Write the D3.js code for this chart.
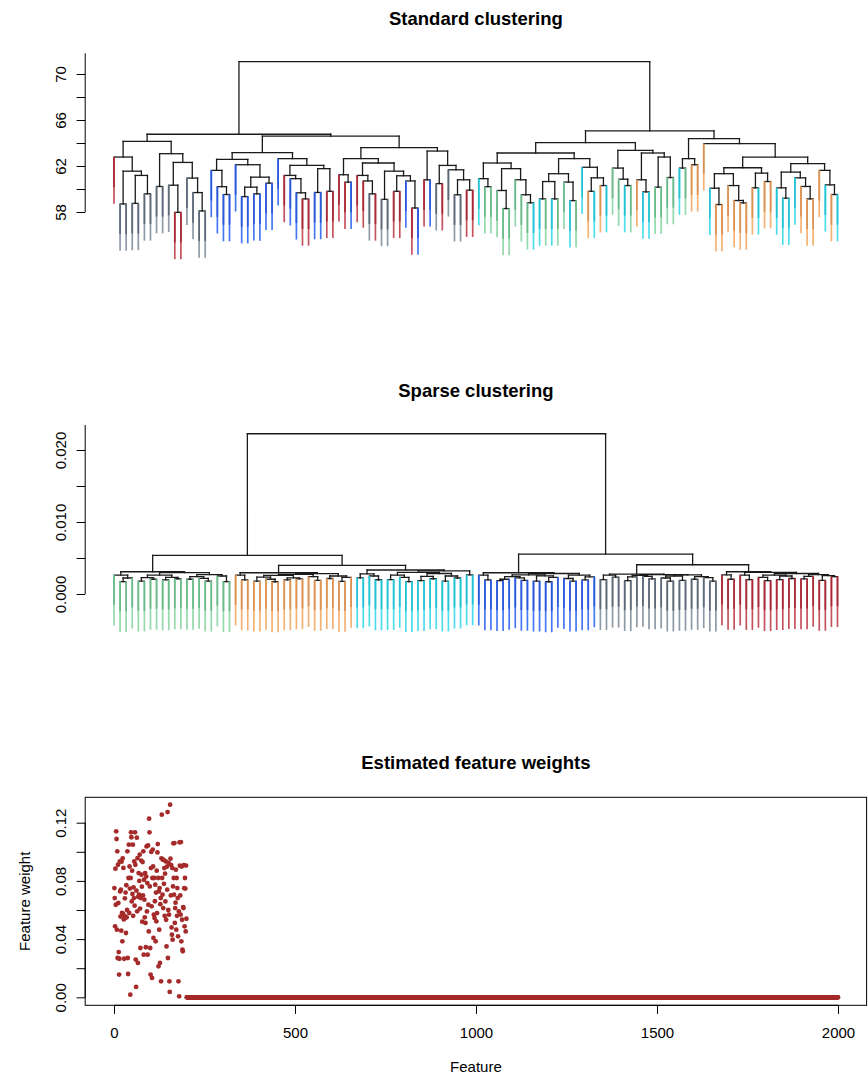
<!DOCTYPE html>
<html><head><meta charset="utf-8">
<script src="https://cdn.jsdelivr.net/npm/d3@7"></script>
<style>
body{margin:0;background:#fff;}
text{font-family:"Liberation Sans",Arial,Helvetica,sans-serif;fill:#000;}
</style>
</head><body>
<svg id="chart" width="868" height="1078"></svg>
<script>
// ---------------- DATA ----------------
// Dendrogram nodes: [mergeHeight, left, right]; leaves: class code
const standardTree = [71.07,
 [64.76,
  [64.15,
   [62.78, 'r', [61.55, [58.70,'s','s'], [61.18, [58.75,'s','s'], [59.58,'s','s']]]],
   [63.07, [60.22,'s','s'], [62.31, [60.33,'s',[57.97,'r','r']], [60.95,'s',[59.69,'s',[58.09,'s','s']]]]]
  ],
  [64.60,
   [63.16,
    [62.58, [61.62,'b',[60.20,'b',[59.52,'b','b']]], [62.11,'b',[61.03,[60.16,[59.34,'b','b'],[59.58,'b','b']],[60.51,'b','b']]]],
    [62.64, 'b', [62.05, [61.18,'r',[60.90,'b',[59.67,'b',[59.14,'r','r']]]], [61.77,[59.70,'b','b'],[59.80,'r','r']]]]
   ],
   [63.60,
    [62.64, [61.24,'r',[60.60,'r','b']], [62.26, [61.18,'r',[60.70,'r',[59.58,'s','r']]], [61.55,[59.10,'s','s'],[61.15,[59.80,'r','r'],[60.70,'b',[58.35,'r','b']]]]]],
    [63.30, [60.80,'r','b'], [62.05, [60.47,'s','r'], [61.67,'s',[60.80,[59.50,'s','s'],[59.90,'r','r']]]]]
   ]
  ]
 ],
 [65.05,
  [64.03,
   [63.13,
    [62.26, [60.90,'c',[60.20,'g','g']], [61.77,[59.87,'g',[58.30,'g','g']],[60.80,'g',[59.50,'g',[58.80,'g','c']]]]],
    [62.64, [61.33,[60.65,[59.14,'c','g'],[59.14,'c','g']],[60.60,'g',[58.99,'c','g']]], [61.89,'c',[60.97,[59.80,'o','c'],[60.30,'o','c']]]]
   ],
   [63.36, [61.82,'g',[60.85,'g',[60.30,'c','g']]], [63.13,[60.80,'o',[59.75,'c','c']],[62.78,[60.16,'g','g'],[61.00,'g','g']]]]
  ],
  [64.38,
   [62.64, [61.82,'c','g'], [62.11,'o','o']],
   [63.94, 'o', [62.78,
      [61.85, [61.33,[60.07,'c',[58.65,'o','o']],[60.30,'o',[59.00,'o',[58.79,'o','o']]]], [61.38,[60.10,'o','c'],[60.65,'o','o']]],
      [62.20, [61.47,[60.10,'c',[59.20,'c','c']],[60.97,'c',[60.22,'o',[59.14,'o','o']]]], [61.62,'o',[60.36,'c',[59.52,'o','c']]]]
   ]]
  ]
 ]
];

const sparseGreen = [0.00309,
  [0.00263, 'g', [0.00222, [0.00172,'g','g'], 'g']],
  [0.00298,
    [0.00262, [0.00228, [0.00178,'g','g'], [0.00205,'g','g']], [0.00232, [0.00195,'g','g'], [0.00212,'g','g']]],
    [0.00270, [0.00240, [0.00205,'g','g'], [0.00218,'g',[0.00180,'g','g']]], [0.00250, 'g', [0.00172,'g','g']]]
  ]];
const sparseOrange = [0.00295,
  [0.00262, 'o', [0.00195,'o','o']],
  [0.00283,
    [0.00272,
      [0.00258,
        [0.00235, [0.00180,'o','o'], [0.00205,'o',[0.00170,'o','o']]],
        [0.00225, [0.00195,'o','o'], [0.00210,'o','o']]],
      [0.00240, 'o', [0.00190,'o','o']]],
    [0.00250, [0.00215,'o','o'], [0.00230,[0.00175,'o','o'],'o']]
  ]];
const sparseCyan = [0.00333,
  [0.00280, [0.00225,'c','c'], [0.00250,'c',[0.00198,'c','c']]],
  [0.00320,
    [0.00300,
      [0.00262, [0.00200,'c','c'], [0.00232,'c',[0.00172,'c','c']]],
      [0.00285, [0.00245,[0.00185,'c','c'],[0.00212,'c','c']], [0.00250,[0.00178,'c','c'],[0.00222,'c','c']]]],
    [0.00265,'c','c']
  ]];
const sparseBlue = [0.00295,
  [0.00262,'b',[0.00195,'b','b']],
  [0.00285,
    [0.00265,
      [0.00240, [0.00205,[0.00185,'b','b'],'b'], [0.00225,'b',[0.00190,'b','b']]],
      [0.00252, [0.00180,'b','b'], [0.00230,[0.00170,'b','b'],'b']]],
    [0.00262, [0.00215,'b',[0.00180,'b','b']], [0.00238,[0.00195,'b','b'],'b']]
  ]];
const sparseSlate = [0.00277,
  [0.00262, [0.00200,'s','s'], [0.00235,'s','s']],
  [0.00270,
    [0.00260, [0.00238,[0.00185,'s','s'],'s'], [0.00245,'s',[0.00210,'s','s']]],
    [0.00266, [0.00250,[0.00222,'s',[0.00180,'s','s']],[0.00190,'s','s']], [0.00242,[0.00205,'s','s'],[0.00228,'s',[0.00178,'s','s']]]]
  ]];
const sparseRed = [0.00309,
  [0.00265,'r',[0.00205,'r','r']],
  [0.00300,
    [0.00262,'r',[0.00200,'r','r']],
    [0.00285,
      [0.00262, [0.00230,'r',[0.00185,'r','r']], [0.00250,[0.00200,'r','r'],[0.00215,'r','r']]],
      [0.00270, [0.00245,[0.00210,'r','r'],'r'], [0.00255,[0.00190,'r','r'],[0.00240,'r','r']]]]
  ]];
const sparseTree = [0.02226,
  [0.00536, sparseGreen, [0.00397, sparseOrange, sparseCyan]],
  [0.00554, sparseBlue, [0.00406, sparseSlate, sparseRed]]
];

const classColors = {
  r: {upper:'#A82A38', lower:'#C4525E'},
  s: {upper:'#5D6977', lower:'#8E9AA7'},
  b: {upper:'#2C58DA', lower:'#4677F2'},
  g: {upper:'#6BB98A', lower:'#94D8AC'},
  c: {upper:'#26C2D4', lower:'#4DDCEA'},
  o: {upper:'#DA9152', lower:'#F3B274'}
};

const standardTicks = [58,60,62,64,66,68,70];
const standardLabels = [58,62,66,70];
const standardBranchLength = 4.07;
const sparseTicks = [0,0.005,0.010,0.015,0.020];
const sparseLabels = [0,0.010,0.020];
const sparseBranchLength = 0.007;

// feature weights: features 1..200 informative, 201..2000 zero
const informativeWeights = [
0.0751,0.0682,0.0488,0.0884,0.0636,0.1141,0.1088,0.0465,0.1003,0.0270,
0.0911,0.0648,0.0311,0.0156,0.0265,0.0934,0.0728,0.0555,0.0740,0.0458,
0.0932,0.0580,0.0385,0.0955,0.0575,0.0889,0.0535,0.0265,0.0560,0.0680,
0.0545,0.0720,0.0442,0.0770,0.0550,0.0600,0.1003,0.0270,0.0160,0.0820,
0.1049,0.0580,0.0899,0.0747,0.0018,0.0820,0.1134,0.1100,0.0659,0.0870,
0.0710,0.1049,0.0560,0.0756,0.0682,0.0934,0.0630,0.1134,0.0911,0.0259,
0.0071,0.0733,0.1097,0.0591,0.0957,0.0236,0.0690,0.0854,0.0705,0.0800,
0.0980,0.0610,0.0339,0.0682,0.0940,0.0843,0.0760,0.0520,0.0930,0.0700,
0.1003,0.0293,0.0808,0.0671,0.0550,0.0854,0.0511,0.0344,0.0830,0.1037,
0.0590,0.0785,0.0293,0.1044,0.0636,0.0453,0.1228,0.1134,0.0762,0.0339,
0.0156,0.0888,0.0999,0.0625,0.0133,0.0820,0.1015,0.0899,0.0408,0.0568,
0.0820,0.0545,0.0660,0.0774,0.0385,0.0720,0.0522,0.0870,0.0579,0.0996,
0.1053,0.0820,0.0213,0.0728,0.0465,0.0751,0.0236,0.0640,0.0682,0.0110,
0.0955,0.1255,0.0820,0.0705,0.0946,0.0613,0.0944,0.0780,0.0888,0.0560,
0.0850,0.0659,0.0934,0.0533,0.0350,0.0898,0.0740,0.1273,0.0270,0.0600,
0.0923,0.0568,0.0110,0.0037,0.1324,0.0953,0.0700,0.0909,0.0480,0.0430,
0.0888,0.0396,0.0762,0.1058,0.0820,0.0705,0.1060,0.0511,0.0613,0.0650,
0.0877,0.0465,0.0820,0.0560,0.0751,0.0682,0.0419,0.0110,0.0590,0.0007,
0.1065,0.0904,0.0700,0.0568,0.1067,0.0385,0.0899,0.0533,0.0328,0.0316,
0.0620,0.0613,0.0909,0.0750,0.0488,0.0820,0.0747,0.0453,0.0905,0.0540
];
const zeroWeights = new Array(1800).fill(0);
const weightTicks = [0,0.02,0.04,0.06,0.08,0.10,0.12];
const weightLabels = [0,0.04,0.08,0.12];
const featureTicks = [0,500,1000,1500,2000];

const titles = ["Standard clustering","Sparse clustering","Estimated feature weights"];

// ---------------- DRAWING ----------------
const svg = d3.select("#chart");
const plotLeft = 85.2, plotRight = 866.6, titleX = (plotLeft + plotRight) / 2;

function buildTree(node, leaves) {
  if (typeof node === 'string') {
    const n = {leaf:true, idx:leaves.length, cls:node};
    n.x = n.idx; leaves.push(n); return n;
  }
  const l = buildTree(node[1], leaves), r = buildTree(node[2], leaves);
  return {leaf:false, h:node[0], left:l, right:r, x:(l.x + r.x) / 2};
}
function collectHeights(node, arr) {
  if (node.leaf) return arr;
  arr.push(node.h); collectHeights(node.left, arr); collectHeights(node.right, arr); return arr;
}

function yAxisLeft(g, scale, ticks, labels, fmt, lineTop, labelBaseline) {
  const ax = d3.axisLeft(scale).tickValues(ticks).tickSize(8.6).tickSizeOuter(0)
    .tickFormat(d => labels.some(l => Math.abs(l - d) < 1e-9) ? fmt(d) : "");
  const ag = g.append("g").attr("transform", `translate(${plotLeft},0)`).call(ax);
  ag.attr("font-family", null).attr("font-size", null);
  ag.select(".domain").remove();
  ag.append("line").attr("x1", 0).attr("x2", 0)
    .attr("y1", scale(ticks[0])).attr("y2", lineTop).attr("stroke", "#000").attr("stroke-width", 1);
  ag.selectAll(".tick line").attr("stroke", "#000").attr("stroke-width", 1);
  ag.selectAll(".tick text").attr("transform", "rotate(-90)")
    .attr("x", 0).attr("y", labelBaseline - plotLeft).attr("dy", null)
    .attr("text-anchor", "middle").attr("fill", "#000").style("font-size", "15px");
}

function drawDendrogram(cfg) {
  const g = svg.append("g");
  const leaves = [];
  const root = buildTree(cfg.tree, leaves);
  const hs = collectHeights(root, []);
  const hang = 0.2 * (d3.max(hs) - d3.min(hs));
  const x = d3.scaleLinear().domain([0, leaves.length - 1]).range([114, 837.5]);
  const y = cfg.y;

  if (cfg.clipBottom) {
    const id = "clip" + cfg.idx;
    svg.append("clipPath").attr("id", id).append("rect")
      .attr("x", 0).attr("y", 0).attr("width", 868).attr("height", cfg.clipBottom);
    g.attr("clip-path", `url(#${id})`);
  }

  const segs = [], leafSegs = [];
  (function walk(n) {
    if (n.leaf) return;
    segs.push([x(n.left.x), y(n.h), x(n.right.x), y(n.h)]);
    [n.left, n.right].forEach(c => {
      if (c.leaf) leafSegs.push({x: x(c.x), top: n.h, cls: c.cls});
      else { segs.push([x(c.x), y(n.h), x(c.x), y(c.h)]); walk(c); }
    });
  })(root);

  g.selectAll("line.tree").data(segs).join("line").attr("class", "tree")
    .attr("x1", d => d[0]).attr("y1", d => d[1]).attr("x2", d => d[2]).attr("y2", d => d[3])
    .attr("stroke", "#1a1a1a").attr("stroke-width", 1.3).attr("stroke-linecap", "square");

  g.selectAll("line.leafLow").data(leafSegs).join("line").attr("class", "leafLow")
    .attr("x1", d => d.x).attr("x2", d => d.x)
    .attr("y1", d => y(d.top)).attr("y2", d => y(d.top - cfg.branchLength))
    .attr("stroke", d => classColors[d.cls].lower).attr("stroke-width", 1.7);
  g.selectAll("line.leafUp").data(leafSegs).join("line").attr("class", "leafUp")
    .attr("x1", d => d.x).attr("x2", d => d.x)
    .attr("y1", d => y(d.top)).attr("y2", d => y(d.top - hang))
    .attr("stroke", d => classColors[d.cls].upper).attr("stroke-width", 1.7);

  yAxisLeft(svg.append("g"), y, cfg.ticks, cfg.labels, cfg.fmt, cfg.axisTop, 65.5);

  svg.append("text").attr("x", titleX).attr("y", cfg.titleY).attr("text-anchor", "middle")
    .style("font-weight", "bold").style("font-size", "18.5px").text(cfg.title);
}

drawDendrogram({
  idx: 1, tree: standardTree,
  y: d3.scaleLinear().domain([58, 70]).range([212, 74]),
  branchLength: standardBranchLength,
  ticks: standardTicks, labels: standardLabels, fmt: d3.format("d"),
  axisTop: 53.3, title: titles[0], titleY: 24.5
});

drawDendrogram({
  idx: 2, tree: sparseTree,
  y: d3.scaleLinear().domain([0, 0.02]).range([594, 450]),
  branchLength: sparseBranchLength, clipBottom: 633.3,
  ticks: sparseTicks, labels: sparseLabels, fmt: d3.format(".3f"),
  axisTop: 425, title: titles[1], titleY: 396.5
});

// ---------------- Feature weights panel ----------------
const weights = informativeWeights.concat(zeroWeights);
const px = d3.scaleLinear().domain([0, 2000]).range([114, 838]);
const py = d3.scaleLinear().domain([0, 0.12]).range([997.3, 822.7]);
const boxTop = 797.3, boxBottom = 1005.3;
const g3 = svg.append("g");

g3.append("rect").attr("x", plotLeft).attr("y", boxTop)
  .attr("width", plotRight - plotLeft).attr("height", boxBottom - boxTop)
  .attr("fill", "none").attr("stroke", "#000").attr("stroke-width", 1);

g3.append("g").selectAll("circle").data(weights).join("circle")
  .attr("cx", (d, i) => px(i + 1)).attr("cy", d => py(d)).attr("r", 2.4)
  .attr("fill", "#A52A2A");

yAxisLeft(g3, py, weightTicks, weightLabels, d3.format(".2f"), py(0.12), 66.3);

const xa = g3.append("g").attr("transform", `translate(0,${boxBottom})`)
  .call(d3.axisBottom(px).tickValues(featureTicks).tickSize(8.6).tickSizeOuter(0).tickFormat(d3.format("d")));
xa.attr("font-family", null).attr("font-size", null);
xa.select(".domain").attr("d", `M${px(0)},0H${px(2000)}`).attr("stroke", "#000");
xa.selectAll(".tick line").attr("stroke", "#000");
xa.selectAll(".tick text").attr("y", 33.2).attr("dy", null).attr("fill", "#000").style("font-size", "15px");

svg.append("text").attr("x", titleX).attr("y", 768.5).attr("text-anchor", "middle")
  .style("font-weight", "bold").style("font-size", "18.5px").text(titles[2]);
svg.append("text").attr("x", titleX).attr("y", 1072).attr("text-anchor", "middle")
  .style("font-size", "15px").text("Feature");
svg.append("text").attr("transform", `translate(30,${(boxTop + boxBottom) / 2}) rotate(-90)`)
  .attr("text-anchor", "middle").style("font-size", "15px").text("Feature weight");
</script>
</body></html>
